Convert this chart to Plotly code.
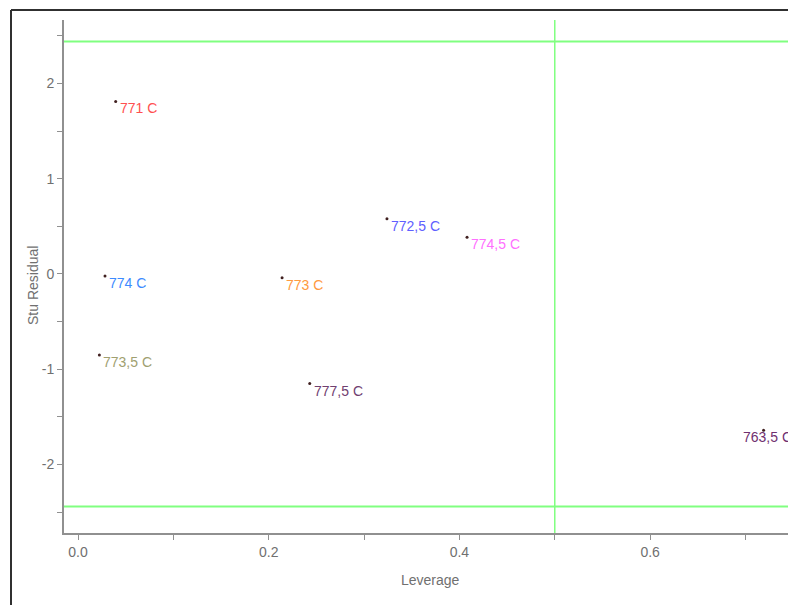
import plotly.graph_objects as go

labels = ["771 C", "774 C", "773 C", "773,5 C", "777,5 C", "772,5 C", "774,5 C", "763,5 C"]
leverage = [0.0395, 0.0283, 0.214, 0.0224, 0.243, 0.324, 0.408, 0.719]
stu_resid = [1.81, -0.02, -0.04, -0.85, -1.15, 0.58, 0.385, -1.64]
label_colors = ["#ff5050", "#3d8bff", "#ff9a40", "#a0a070", "#704070", "#6060ff", "#ff70ff", "#703070"]

resid_limit = 2.44
leverage_limit = 0.5

W, H = 788, 605
L, R, T, B = 64, 0, 20, 72
FONT = "Liberation Sans, Arial"

fig = go.Figure()
fig.add_trace(go.Scatter(
    x=leverage, y=stu_resid, mode="markers",
    marker=dict(size=3, color="#402020"),
    showlegend=False, cliponaxis=False,
))

xr = [-0.0147, 0.7446]
yr = [-2.718, 2.665]

# reference lines
for yv in (resid_limit, -resid_limit):
    fig.add_trace(go.Scatter(x=xr, y=[yv, yv], mode="lines",
                             line=dict(color="#80ff80", width=2), showlegend=False, hoverinfo="skip"))
fig.add_trace(go.Scatter(x=[leverage_limit, leverage_limit], y=yr, mode="lines",
                         line=dict(color="#80ff80", width=1.5), showlegend=False, hoverinfo="skip"))

annotations = []
for lab, x, y, c in zip(labels, leverage, stu_resid, label_colors):
    # the right-most label is pushed left so it stays inside the picture
    near_edge = x > 0.7
    annotations.append(dict(
        x=x, y=y, xref="x", yref="y", text=lab, showarrow=False,
        xanchor="left", yanchor="middle",
        xshift=-23 if near_edge else 2, yshift=-7,
        font=dict(family=FONT, size=14, color=c),
    ))

pw = W - L - R
ph = H - T - B
annotations.append(dict(
    x=(431 - L) / pw, y=-(580 - (H - B)) / ph, xref="paper", yref="paper",
    text="Leverage", showarrow=False, xanchor="center", yanchor="middle",
    font=dict(family=FONT, size=14, color="#707070"),
))
annotations.append(dict(
    x=(33 - L) / pw, y=(H - B - 286) / ph, xref="paper", yref="paper",
    text="Stu Residual", showarrow=False, textangle=-90, xanchor="center", yanchor="middle",
    font=dict(family=FONT, size=14, color="#707070"),
))

fx = (11 - L) / pw
fy = (H - B - 10) / ph

fig.update_layout(
    width=W, height=H,
    margin=dict(l=L, r=R, t=T, b=B, pad=0),
    paper_bgcolor="white", plot_bgcolor="white",
    font=dict(family=FONT, size=14, color="#707070"),
    xaxis=dict(range=xr, tickvals=[0, 0.2, 0.4, 0.6], ticktext=["0.0", "0.2", "0.4", "0.6"],
               showgrid=False, zeroline=False, showline=True, linecolor="#909090", linewidth=2,
               ticks="outside", ticklen=5, tickcolor="#909090",
               minor=dict(tickvals=[0.1, 0.3, 0.5, 0.7], ticks="outside", ticklen=5, tickcolor="#909090")),
    yaxis=dict(range=yr, tickvals=[-2, -1, 0, 1, 2], ticktext=["-2", "-1", "0", "1", "2"],
               showgrid=False, zeroline=False, showline=True, linecolor="#909090", linewidth=2,
               ticks="outside", ticklen=5, tickcolor="#909090",
               minor=dict(tickvals=[-2.5, -1.5, -0.5, 0.5, 1.5, 2.5], ticks="outside", ticklen=5, tickcolor="#909090")),
    annotations=annotations,
    shapes=[
        dict(type="line", xref="paper", yref="paper", x0=fx, x1=fx, y0=-0.2, y1=fy,
             line=dict(color="#303030", width=2)),
        dict(type="line", xref="paper", yref="paper", x0=fx, x1=1.2, y0=fy, y1=fy,
             line=dict(color="#303030", width=2)),
    ],
)

fig.write_html("out.html")
